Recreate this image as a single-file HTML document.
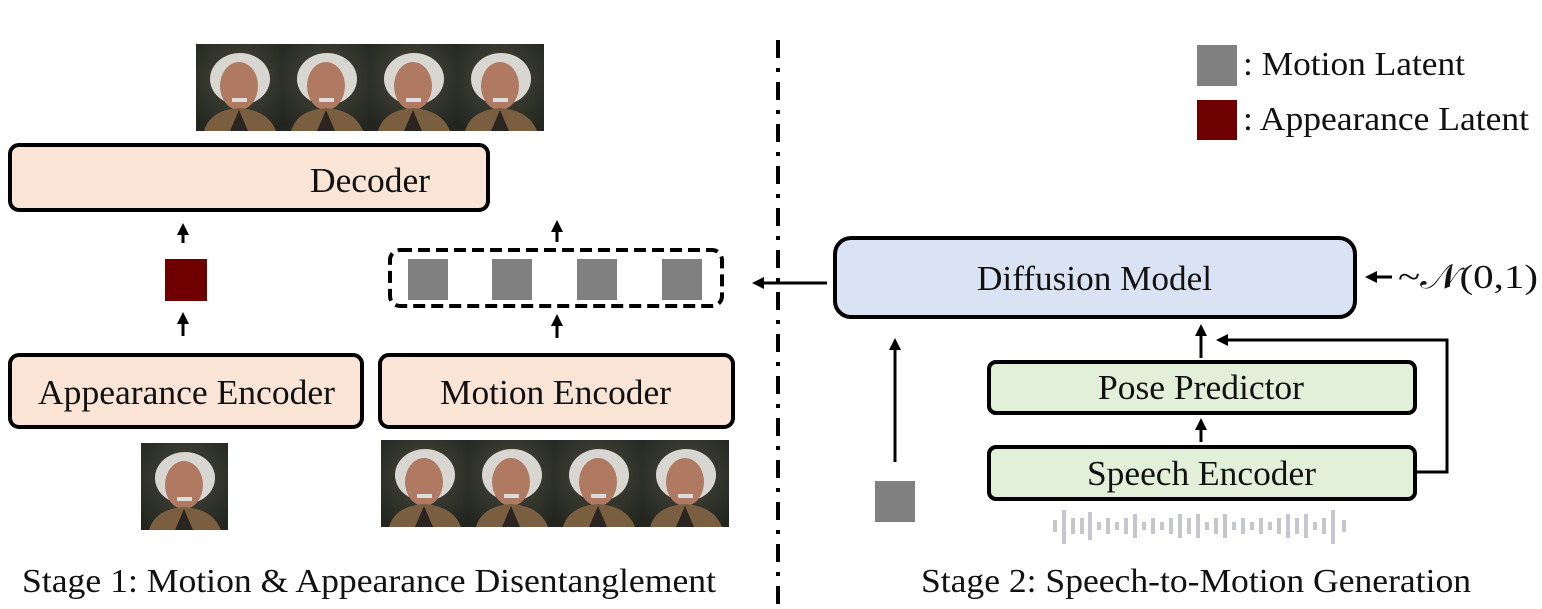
<!DOCTYPE html>
<html><head><meta charset="utf-8"><style>
body{margin:0;background:#fff}
svg text{font-family:"Liberation Serif",serif;fill:#111}
</style></head><body>
<svg width="1542" height="604" viewBox="0 0 1542 604" xmlns="http://www.w3.org/2000/svg">
<defs>
<marker id="ah" markerWidth="4" markerHeight="4" refX="2" refY="2" orient="auto" markerUnits="strokeWidth"><path d="M0,0 L4,2 L0,4 z" fill="#000"/></marker>
<radialGradient id="bg" cx="50%" cy="40%" r="70%"><stop offset="0" stop-color="#4a4a3e"/><stop offset="1" stop-color="#22261f"/></radialGradient>
<g id="face">
<rect width="87" height="87" fill="url(#bg)"/>
<ellipse cx="44" cy="35" rx="30" ry="26" fill="#d8d6d0"/>
<ellipse cx="43" cy="42" rx="19" ry="24" fill="#b07a62"/>
<rect x="36" y="54" width="15" height="4" fill="#ddd"/>
<path d="M8,87 Q14,66 43,64 Q72,66 80,87 z" fill="#7a5e40"/>
<path d="M34,87 L43,66 L52,87 z" fill="#2a2520"/>
</g>
</defs>
<use href="#face" x="196" y="44"/><use href="#face" x="283" y="44"/><use href="#face" x="370" y="44"/><use href="#face" x="457" y="44"/>
<use href="#face" x="141" y="443"/>
<use href="#face" x="381" y="440"/><use href="#face" x="468" y="440"/><use href="#face" x="555" y="440"/><use href="#face" x="642" y="440"/>
<rect x="10" y="145" width="478" height="65" rx="9" fill="#f9e4d6" stroke="#000" stroke-width="4"/>
<text x="310" y="192" font-size="35" textLength="120" lengthAdjust="spacingAndGlyphs">Decoder</text>
<rect x="10" y="355" width="352" height="72" rx="9" fill="#f9e4d6" stroke="#000" stroke-width="4"/>
<text x="38" y="404" font-size="35" textLength="297" lengthAdjust="spacingAndGlyphs">Appearance Encoder</text>
<rect x="380" y="355" width="353" height="72" rx="9" fill="#f9e4d6" stroke="#000" stroke-width="4"/>
<text x="440" y="404" font-size="35" textLength="231" lengthAdjust="spacingAndGlyphs">Motion Encoder</text>
<g stroke="#000" stroke-width="3" marker-end="url(#ah)">
<line x1="183" y1="243" x2="183" y2="229"/>
<line x1="183" y1="336" x2="183" y2="318"/>
<line x1="557" y1="242" x2="557" y2="226"/>
<line x1="557" y1="338" x2="557" y2="320"/>
<line x1="827" y1="283" x2="758" y2="283"/>
<line x1="1392" y1="277" x2="1371" y2="277"/>
<line x1="895" y1="462" x2="895" y2="344"/>
<line x1="1201" y1="442" x2="1201" y2="424"/>
<line x1="1201" y1="358" x2="1201" y2="330"/>
</g>
<path d="M1416,472 L1447,472 L1447,340 L1222,340" fill="none" stroke="#000" stroke-width="3" marker-end="url(#ah)"/>
<rect x="165" y="259" width="42" height="42" fill="#6e0000"/>
<rect x="390" y="250" width="332" height="56" rx="10" fill="none" stroke="#000" stroke-width="4" stroke-dasharray="12,6"/>
<rect x="408" y="259" width="40" height="41" fill="#808080"/>
<rect x="492" y="259" width="40" height="41" fill="#808080"/>
<rect x="577" y="259" width="40" height="41" fill="#808080"/>
<rect x="662" y="259" width="40" height="41" fill="#808080"/>
<text x="22" y="592" font-size="34" textLength="694" lengthAdjust="spacingAndGlyphs">Stage 1: Motion &amp; Appearance Disentanglement</text>
<line x1="778" y1="40" x2="778" y2="604" stroke="#000" stroke-width="4" stroke-dasharray="18,10,4,10"/>
<rect x="835" y="238" width="520" height="79" rx="16" fill="#dae3f3" stroke="#000" stroke-width="4"/>
<text x="977" y="290" font-size="35" textLength="235" lengthAdjust="spacingAndGlyphs">Diffusion Model</text>
<text x="1398" y="288" font-size="34" textLength="140" lengthAdjust="spacingAndGlyphs">~𝒩(0,1)</text>
<rect x="989" y="362" width="426" height="51" rx="7" fill="#e2efd9" stroke="#000" stroke-width="4"/>
<text x="1098" y="399" font-size="35" textLength="206" lengthAdjust="spacingAndGlyphs">Pose Predictor</text>
<rect x="989" y="447" width="426" height="52" rx="7" fill="#e2efd9" stroke="#000" stroke-width="4"/>
<text x="1087" y="485" font-size="35" textLength="229" lengthAdjust="spacingAndGlyphs">Speech Encoder</text>
<rect x="875" y="481" width="40" height="41" fill="#808080"/>
<g stroke="#c6c6ce" stroke-width="4">
<line x1="1055" y1="520" x2="1055" y2="532"/><line x1="1064" y1="510" x2="1064" y2="544"/><line x1="1073" y1="518" x2="1073" y2="534"/><line x1="1082" y1="518" x2="1082" y2="534"/><line x1="1090" y1="512" x2="1090" y2="540"/><line x1="1099" y1="522" x2="1099" y2="530"/><line x1="1108" y1="518" x2="1108" y2="534"/><line x1="1117" y1="522" x2="1117" y2="530"/><line x1="1126" y1="518" x2="1126" y2="534"/><line x1="1135" y1="514" x2="1135" y2="538"/><line x1="1144" y1="522" x2="1144" y2="530"/><line x1="1153" y1="518" x2="1153" y2="534"/><line x1="1162" y1="522" x2="1162" y2="530"/><line x1="1171" y1="518" x2="1171" y2="534"/><line x1="1180" y1="514" x2="1180" y2="538"/><line x1="1189" y1="518" x2="1189" y2="534"/><line x1="1198" y1="514" x2="1198" y2="538"/><line x1="1207" y1="522" x2="1207" y2="530"/><line x1="1216" y1="518" x2="1216" y2="534"/><line x1="1225" y1="514" x2="1225" y2="538"/><line x1="1234" y1="522" x2="1234" y2="530"/><line x1="1243" y1="518" x2="1243" y2="534"/><line x1="1252" y1="522" x2="1252" y2="530"/><line x1="1261" y1="518" x2="1261" y2="534"/><line x1="1270" y1="522" x2="1270" y2="530"/><line x1="1279" y1="518" x2="1279" y2="534"/><line x1="1288" y1="514" x2="1288" y2="538"/><line x1="1297" y1="518" x2="1297" y2="534"/><line x1="1306" y1="514" x2="1306" y2="538"/><line x1="1315" y1="522" x2="1315" y2="530"/><line x1="1324" y1="518" x2="1324" y2="534"/><line x1="1333" y1="510" x2="1333" y2="544"/><line x1="1344" y1="520" x2="1344" y2="532"/>
</g>
<text x="921" y="592" font-size="34" textLength="550" lengthAdjust="spacingAndGlyphs">Stage 2: Speech-to-Motion Generation</text>
<rect x="1197" y="45" width="40" height="41" fill="#808080"/>
<text x="1243" y="75" font-size="34" textLength="222" lengthAdjust="spacingAndGlyphs">: Motion Latent</text>
<rect x="1197" y="100" width="40" height="40" fill="#6e0000"/>
<text x="1243" y="130" font-size="34" textLength="286" lengthAdjust="spacingAndGlyphs">: Appearance Latent</text>
</svg>
</body></html>
